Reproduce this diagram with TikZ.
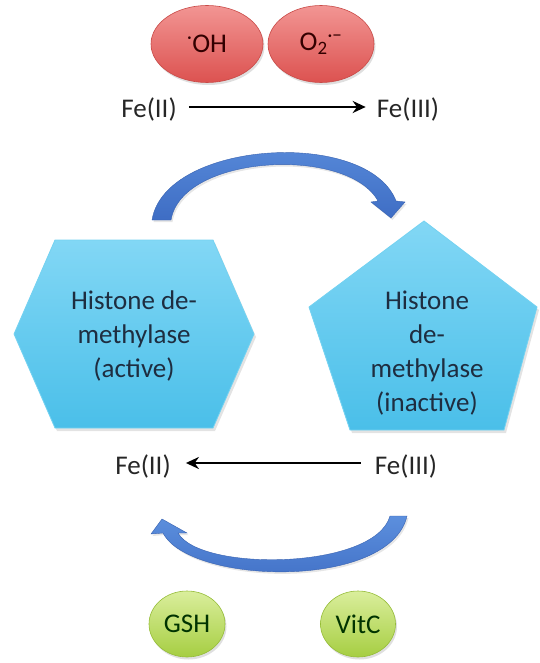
\documentclass[tikz,border=0pt]{standalone}
\usepackage{fontspec}
\setmainfont{Carlito}
\usetikzlibrary{shapes.geometric,arrows.meta,shadows}
\definecolor{redtop}{HTML}{F29593}
\definecolor{redbot}{HTML}{DC5250}
\definecolor{redline}{HTML}{C84A47}
\definecolor{greentop}{HTML}{DAEE9C}
\definecolor{greenbot}{HTML}{A6CE42}
\definecolor{greenline}{HTML}{95BC38}
\definecolor{cyantop}{HTML}{82D7F5}
\definecolor{cyanbot}{HTML}{4ABFE9}
\definecolor{cyanline}{HTML}{74D2F1}
\definecolor{bluetop}{HTML}{5C8FDD}
\definecolor{bluebot}{HTML}{3E6DC4}
\definecolor{navytext}{HTML}{1E2D40}
\begin{document}
\begin{tikzpicture}[x=1pt,y=-1pt,
  lbl/.style={font=\fontsize{27}{34}\selectfont, text=black!85, inner sep=0pt},
  shapetext/.style={font=\fontsize{27}{34}\selectfont, text=navytext, inner sep=0pt, align=center},
  ovaltext/.style={font=\fontsize{27}{32}\selectfont, inner sep=0pt},
  redov/.style={ellipse, ovaltext, text=black!80!red, top color=redtop, bottom color=redbot, draw=redline, line width=0.6pt,
     drop shadow={opacity=0.25, shadow xshift=1.5pt, shadow yshift=-2.5pt}},
  greenov/.style={ellipse, ovaltext, text=black!80!green, top color=greentop, bottom color=greenbot, draw=greenline, line width=0.6pt,
     drop shadow={opacity=0.25, shadow xshift=1.5pt, shadow yshift=-2.5pt}},
  polyfill/.style={top color=cyantop, bottom color=cyanbot, draw=cyanline, line width=0.8pt,
     drop shadow={opacity=0.22, shadow xshift=2pt, shadow yshift=-3pt}},
  bluearc/.style={top color=bluetop, bottom color=bluebot, draw=bluebot!90!black, line width=0.4pt,
     drop shadow={opacity=0.2, shadow xshift=1.5pt, shadow yshift=-2pt}},
  feline/.style={line width=2.2pt, -{Stealth[length=13pt,width=12pt]}}
]
\useasboundingbox (0,0) rectangle (539,663);

% red oxidants
\node[redov, minimum width=112pt, minimum height=77pt] (oh) at (207,44) {\textsuperscript{·}OH};
\node[redov, minimum width=106pt, minimum height=77pt] (o2) at (321,44) {O\textsubscript{2}\textsuperscript{·−}};

% top Fe row
\node[lbl, anchor=base] (fe2t) at (149,118) {Fe(II)};
\node[lbl, anchor=base] (fe3t) at (408,118) {Fe(III)};
\draw[feline, shorten <=12pt, shorten >=11pt] ([yshift=3pt]fe2t.east) -- ([yshift=3pt]fe3t.west);

% top curved arrow
\coordinate (tstart) at (152,220);
\coordinate (ttip) at (391,218);
\path[bluearc] (tstart) .. controls (165,140) and (368,128) .. (396,201) -- (405,202) -- (ttip) -- (371,202)
  -- (378,201) .. controls (348,146) and (182,154) .. (171,220) -- cycle;

% hexagon (active)
\path[polyfill] (55,240) -- (213,240) -- (254,334) -- (213,428) -- (55,428) -- (14,334) -- cycle;
\node[shapetext] (hex) at (134,336) {Histone de-\\methylase\\(active)};

% pentagon (inactive)
\path[polyfill] (424,221) -- (537,307) -- (504,430) -- (350,430) -- (309,307) -- cycle;
\node[shapetext] (pent) at (427,353) {Histone\\de-\\methylase\\(inactive)};

% bottom Fe row
\node[lbl, anchor=base] (fe2b) at (143,474) {Fe(II)};
\node[lbl, anchor=base] (fe3b) at (406,474) {Fe(III)};
\draw[feline, shorten <=14pt, shorten >=15pt] ([yshift=3pt]fe3b.west) -- ([yshift=3pt]fe2b.east);

% bottom curved arrow
\coordinate (bstart) at (407,516);
\coordinate (btip) at (162,519);
\path[bluearc] (bstart) .. controls (390,590) and (190,585) .. (163,533) -- (151,534) -- (btip) -- (187,533)
  -- (178,533) .. controls (200,572) and (375,570) .. (390,516) -- cycle;

% green reductants
\node[greenov, minimum width=76pt, minimum height=66pt] (gsh) at (187,624) {GSH};
\node[greenov, minimum width=75pt, minimum height=66pt] (vitc) at (358,624) {VitC};
\end{tikzpicture}
\end{document}
